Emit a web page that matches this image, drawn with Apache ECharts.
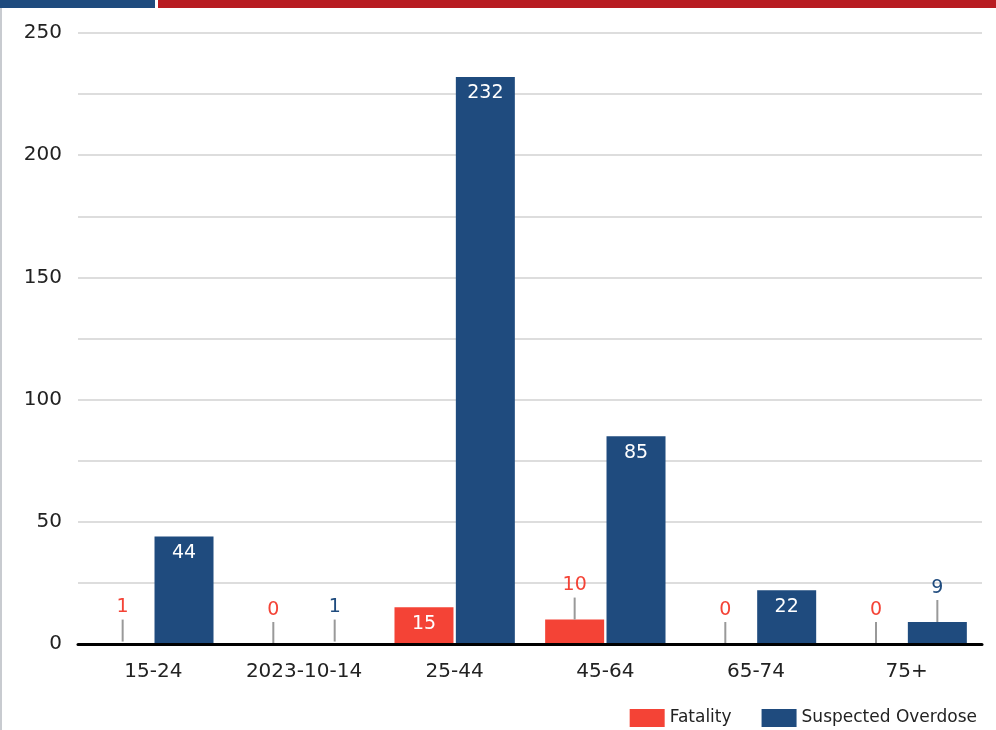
<!DOCTYPE html>
<html>
<head>
<meta charset="utf-8">
<script src="https://cdn.jsdelivr.net/npm/echarts@6/dist/echarts.min.js"></script>
<style>
  html, body { margin: 0; padding: 0; background: #fff; }
  #main { width: 996px; height: 730px; }
</style>
</head>
<body>
<div id="main"></div>
<script>
const categories = ['15-24', '2023-10-14', '25-44', '45-64', '65-74', '75+']
const fatality = [1, 0, 15, 10, 0, 0]
const overdose = [44, 1, 232, 85, 22, 9]
const seriesNames = ['Fatality', 'Suspected Overdose']

const RED = '#F44336'
const BLUE = '#1F4B7E'
const FONT = 'DejaVu Sans'

// small bars get the label above with a grey leader line, big ones inside
function toData (values, color) {
  return values.map(v => {
    if (v >= 12) {
      return {
        value: v,
        label: { show: true, position: 'insideTop', distance: 7, color: '#fff', fontSize: 19, fontFamily: FONT }
      }
    }
    return {
      value: v,
      // bars of 1 disappear under the axis line in the original
      itemStyle: v < 2 ? { color: 'rgba(0,0,0,0)' } : undefined,
      label: {
        show: true,
        position: 'top',
        distance: 0,
        formatter: '{v|{c}}\n{l|}',
        rich: {
          v: { color: color, fontSize: 19, fontFamily: FONT, lineHeight: 24, align: 'center' },
          l: { width: 2, height: 22, backgroundColor: '#999', align: 'center' }
        }
      }
    }
  })
}

const chart = echarts.init(document.getElementById('main'))
chart.setOption({
  animation: false,
  textStyle: { fontFamily: FONT },
  grid: { left: 78, right: 14, top: 33, bottom: 86 },
  graphic: [
    { type: 'rect', shape: { x: 0, y: 0, width: 155, height: 8 }, style: { fill: '#1F4B7E' } },
    { type: 'rect', shape: { x: 158, y: 0, width: 838, height: 8 }, style: { fill: '#B81C22' } },
    { type: 'rect', shape: { x: 0, y: 8, width: 2, height: 722 }, style: { fill: '#c8cbd0' } }
  ],
  legend: {
    right: 14,
    top: 704,
    itemWidth: 35,
    itemHeight: 18,
    itemGap: 30,
    icon: 'rect',
    textStyle: { fontSize: 17, color: '#222', fontFamily: FONT },
    data: seriesNames
  },
  xAxis: {
    type: 'category',
    data: categories,
    z: 5,
    axisLine: { lineStyle: { color: '#000', width: 3 } },
    axisTick: { show: false },
    axisLabel: { color: '#222', fontSize: 20, margin: 18, interval: 0, fontFamily: FONT }
  },
  yAxis: {
    type: 'value',
    min: 0,
    max: 250,
    interval: 25,
    axisLine: { show: false },
    axisTick: { show: false },
    axisLabel: {
      color: '#222',
      fontSize: 20,
      margin: 16,
      fontFamily: FONT,
      formatter: v => (v % 50 === 0 ? v : '')
    },
    splitLine: { lineStyle: { color: '#ddd', width: 2 } }
  },
  series: [
    {
      name: seriesNames[0],
      type: 'bar',
      barWidth: 59,
      barGap: '4%',
      itemStyle: { color: RED },
      data: toData(fatality, RED)
    },
    {
      name: seriesNames[1],
      type: 'bar',
      barWidth: 59,
      itemStyle: { color: BLUE },
      data: toData(overdose, BLUE)
    }
  ]
})
</script>
</body>
</html>
